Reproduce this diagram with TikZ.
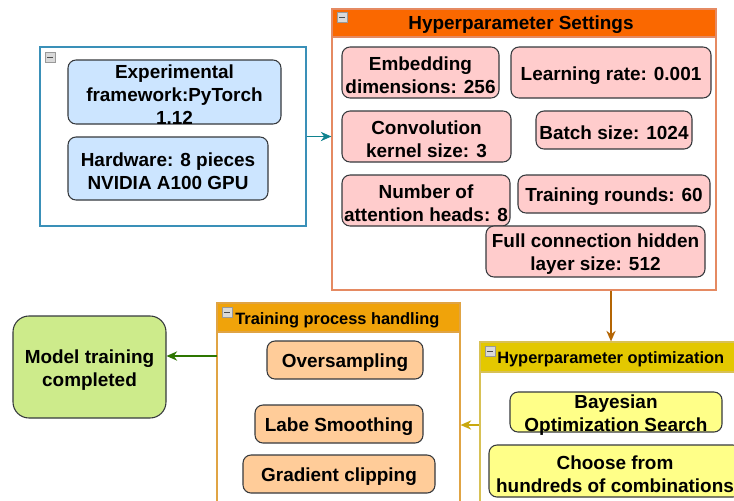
\documentclass[tikz,border=0pt]{standalone}
\usepackage{fontspec}
\setmainfont{Liberation Sans}
\usetikzlibrary{arrows.meta}
\definecolor{tealb}{HTML}{3A90B8}
\definecolor{tealarr}{HTML}{10838F}
\definecolor{hsfill}{HTML}{FA6800}
\definecolor{hsline}{HTML}{E58A62}
\definecolor{tpfill}{HTML}{F0A30A}
\definecolor{tpline}{HTML}{E0A444}
\definecolor{hofill}{HTML}{E3C800}
\definecolor{holine}{HTML}{D8C155}
\definecolor{bluef}{HTML}{CCE5FF}
\definecolor{pinkf}{HTML}{FFCCCC}
\definecolor{orf}{HTML}{FFCC99}
\definecolor{yelf}{HTML}{FFFF88}
\definecolor{grnf}{HTML}{CDEB8B}
\definecolor{nline}{HTML}{36393D}
\definecolor{arrbr}{HTML}{B46504}
\definecolor{arrgo}{HTML}{C9A80E}
\definecolor{arrgr}{HTML}{2D7600}
\newcommand\bx[6]{\node[#6, minimum width={(#4-#2)*0.75pt}, minimum height={(#5-#3)*0.75pt}] (#1) at ({(#2+#4)/2},{(#3+#5)/2}) {};}
\newcommand\tbx[7]{\bx{#1}{#2}{#3}{#4}{#5}{#6}\node (#1t) at ([yshift=-2.2pt]#1.center) {#7};}
\newcommand\icon[3]{\node[draw=gray!80, fill=gray!30, minimum size=7.5pt, inner sep=0pt] (#1) at (#2,#3) {};
  \draw[line width=1pt, black!70] ([xshift=-2.2pt]#1.center) -- ([xshift=2.2pt]#1.center);}
\tikzset{
  every node/.style={font=\fontsize{14.2}{17.2}\selectfont\bfseries, inner sep=0pt, align=center},
  item/.style={draw=nline, rounded corners=6pt, line width=0.8pt},
  blue/.style={item, fill=bluef},
  pink/.style={item, fill=pinkf},
  orng/.style={item, fill=orf},
  yel/.style={item, fill=yelf},
  grn/.style={item, fill=grnf, rounded corners=12pt},
  cont/.style={line width=0.9pt},
  arr/.style={line width=0.9pt, -{Stealth[length=8pt,width=7pt]}},
  hdr/.style={font=\fontsize{12.3}{14.8}\selectfont\bfseries}
}
\begin{document}
\begin{tikzpicture}[x=0.75pt, y=-0.75pt]
\useasboundingbox (0,0) rectangle (734,500);
\clip (0,0) rectangle (734,500);
\fill[white] (0,0) rectangle (734,500);

% left container
\bx{lc}{40}{47}{306}{226}{cont, draw=tealb}
\icon{i1}{50}{57.5}
\tbx{b1}{68}{60}{281}{124}{blue}{Experimental\\framework:PyTorch\\1.12}
\tbx{b2}{68}{137}{268}{200}{blue}{Hardware: 8 pieces\\NVIDIA A100 GPU}

% hyperparameter settings
\bx{hs}{332}{9}{716}{290}{cont, draw=hsline, fill=white}
\bx{hsh}{332}{9}{716}{37}{cont, draw=hsline, fill=hsfill}
\node at (521,25) (hst) {Hyperparameter Settings};
\icon{i2}{342}{17.5}
\tbx{p1}{342}{47}{499}{98}{pink}{Embedding\\dimensions: 256}
\tbx{p2}{511}{47}{711}{98}{pink}{Learning rate: 0.001}
\tbx{p3}{342}{111}{511}{162}{pink}{Convolution\\kernel size: 3}
\tbx{p4}{536}{111}{692}{149}{pink}{Batch size: 1024}
\tbx{p5}{342}{175}{510}{226}{pink}{Number of\\attention heads: 8}
\tbx{p6}{518}{175}{710}{213}{pink}{Training rounds: 60}
\tbx{p7}{486}{226}{705}{277}{pink}{Full connection hidden\\layer size: 512}

% training process handling
\bx{tp}{217}{303}{460}{547}{cont, draw=tpline, fill=white}
\bx{tph}{217}{303}{460}{332}{cont, draw=tpline, fill=tpfill}
\icon{i3}{227}{312.5}
\node[hdr, anchor=west] (tpt) at (235,320) {Training process handling};
\tbx{o1}{267}{341}{423}{379}{orng}{Oversampling}
\tbx{o2}{255}{405}{423}{443}{orng}{Labe Smoothing}
\tbx{o3}{243}{455}{435}{493}{orng}{Gradient clipping}

% hyperparameter optimization
\bx{ho}{480}{342}{742}{508}{cont, draw=holine, fill=white}
\bx{hoh}{480}{342}{742}{372}{cont, draw=holine, fill=hofill}
\icon{i4}{490}{351.5}
\node[hdr, anchor=west] (hot) at (497,359) {Hyperparameter optimization};
\tbx{y1}{510}{392}{722}{432}{yel}{Bayesian\\Optimization Search}
\tbx{y2}{489}{445}{741}{497}{yel}{Choose from\\hundreds of combinations}

% model
\tbx{mt}{13}{316}{166}{418}{grn}{Model training\\completed}

% connectors
\draw[arr, tealarr] (lc.east) -- (lc.east -| hs.west);
\draw[arr, arrbr] (hs.south -| ho.north) -- (ho.north);
\draw[arr, arrgo] (ho.west) -- (ho.west -| tp.east);
\coordinate (a1) at (217,356);
\draw[arr, arrgr] (a1) -- (a1 -| mt.east);
\end{tikzpicture}
\end{document}
